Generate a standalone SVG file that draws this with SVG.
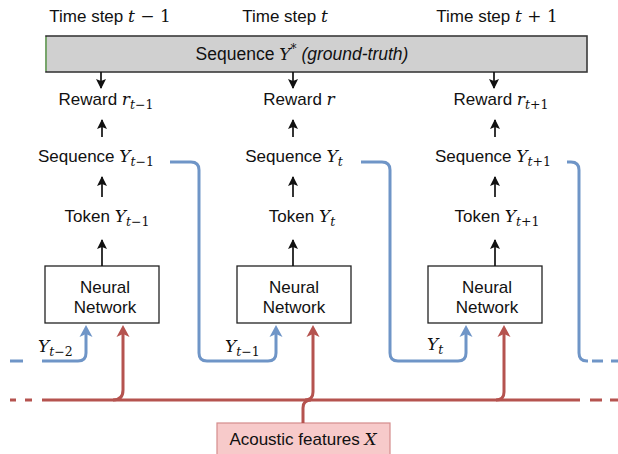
<svg xmlns="http://www.w3.org/2000/svg" width="618" height="454" viewBox="0 0 618 454">
<defs>
<style>
.t{font-family:"Liberation Sans",Arial,sans-serif;font-size:17px;fill:#111;text-anchor:middle}
.m{font-family:"DejaVu Serif","Liberation Serif",serif;font-style:italic;font-size:17px}
.mu{font-family:"DejaVu Serif","Liberation Serif",serif;font-style:normal;font-size:17px}
.s{font-family:"DejaVu Serif","Liberation Serif",serif;font-size:12.5px}
.si{font-style:italic}
.box{fill:#fff;stroke:#222;stroke-width:1.3}
.blk{stroke:#111;stroke-width:1.7;fill:none}
.blue{stroke:#6f95c7;stroke-width:3;fill:none}
.red{stroke:#b5534f;stroke-width:3;fill:none}
</style>
<marker id="ak" markerUnits="userSpaceOnUse" viewBox="0 0 10 10" refX="9" refY="5" markerWidth="10" markerHeight="10" orient="auto">
<path d="M0,0 L10,5 L0,10 L2,5 z" fill="#111"/>
</marker>
<marker id="ab" markerUnits="userSpaceOnUse" viewBox="-5 -7 14 14" refX="0" refY="0" markerWidth="14" markerHeight="14" orient="auto">
<path d="M-4,-6.5 L8,0 L-4,6.5 L-1,0 z" fill="#6f95c7"/>
</marker>
<marker id="ar" markerUnits="userSpaceOnUse" viewBox="-5 -7 14 14" refX="0" refY="0" markerWidth="14" markerHeight="14" orient="auto">
<path d="M-4,-6.5 L8,0 L-4,6.5 L-1,0 z" fill="#b5534f"/>
</marker>
</defs>

<g id="headers">
<text class="t" x="110" y="22">Time step <tspan class="m">t</tspan><tspan class="mu"> − 1</tspan></text>
<text class="t" x="285" y="22">Time step <tspan class="m">t</tspan></text>
<text class="t" x="497" y="22">Time step <tspan class="m">t</tspan><tspan class="mu"> + 1</tspan></text>
</g>

<g id="groundtruth">
<rect x="46" y="36" width="541" height="36" fill="#d0d0d0" stroke="#3a3a3a" stroke-width="1.6"/>
<line x1="46" y1="37" x2="46" y2="71" stroke="#7fb870" stroke-width="1.6"/>
<text class="t" x="302" y="60" style="font-size:17.5px">Sequence <tspan class="m">Y</tspan><tspan class="mu" dy="-7" style="font-size:12px">*</tspan><tspan dy="7"> </tspan><tspan style="font-style:italic">(ground-truth)</tspan></text>
</g>

<g id="reward_prev"><text class="t" x="106" y="105">Reward <tspan class="m">r</tspan><tspan class="s si" dy="4">t</tspan><tspan class="s">−1</tspan></text></g>
<g id="reward_cur"><text class="t" x="299" y="105">Reward <tspan class="m">r</tspan></text></g>
<g id="reward_next"><text class="t" x="501" y="105">Reward <tspan class="m">r</tspan><tspan class="s si" dy="4">t</tspan><tspan class="s">+1</tspan></text></g>

<g id="seq_prev"><text class="t" x="96" y="162">Sequence <tspan class="m">Y</tspan><tspan class="s si" dy="4">t</tspan><tspan class="s">−1</tspan></text></g>
<g id="seq_cur"><text class="t" x="294" y="162">Sequence <tspan class="m">Y</tspan><tspan class="s si" dy="4">t</tspan></text></g>
<g id="seq_next"><text class="t" x="493" y="162">Sequence <tspan class="m">Y</tspan><tspan class="s si" dy="4">t</tspan><tspan class="s">+1</tspan></text></g>

<g id="tok_prev"><text class="t" x="107" y="222">Token <tspan class="m">Y</tspan><tspan class="s si" dy="4">t</tspan><tspan class="s">−1</tspan></text></g>
<g id="tok_cur"><text class="t" x="302" y="222">Token <tspan class="m">Y</tspan><tspan class="s si" dy="4">t</tspan></text></g>
<g id="tok_next"><text class="t" x="497" y="222">Token <tspan class="m">Y</tspan><tspan class="s si" dy="4">t</tspan><tspan class="s">+1</tspan></text></g>

<g id="nn_prev">
<rect class="box" x="45" y="266" width="114" height="57"/>
<text class="t" x="105" y="293">Neural</text>
<text class="t" x="105" y="313">Network</text>
</g>
<g id="nn_cur">
<rect class="box" x="237" y="266" width="114" height="57"/>
<text class="t" x="294" y="293">Neural</text>
<text class="t" x="294" y="313">Network</text>
</g>
<g id="nn_next">
<rect class="box" x="428" y="266" width="114" height="57"/>
<text class="t" x="487" y="293">Neural</text>
<text class="t" x="487" y="313">Network</text>
</g>

<g id="acoustic">
<rect x="217" y="423" width="173" height="34" fill="#f7caca" stroke="#d48c8c" stroke-width="1.2"/>
<text class="t" x="303" y="445">Acoustic features <tspan class="m">X</tspan></text>
</g>

<g id="connectors">
<line class="blk" x1="101" y1="72" x2="101" y2="88" marker-end="url(#ak)"/>
<line class="blk" x1="293" y1="72" x2="293" y2="88" marker-end="url(#ak)"/>
<line class="blk" x1="494" y1="72" x2="494" y2="88" marker-end="url(#ak)"/>
<line class="blk" x1="102" y1="137" x2="102" y2="120" marker-end="url(#ak)"/>
<line class="blk" x1="293" y1="137" x2="293" y2="120" marker-end="url(#ak)"/>
<line class="blk" x1="495" y1="137" x2="495" y2="120" marker-end="url(#ak)"/>
<line class="blk" x1="102" y1="197" x2="102" y2="177" marker-end="url(#ak)"/>
<line class="blk" x1="293" y1="197" x2="293" y2="177" marker-end="url(#ak)"/>
<line class="blk" x1="495" y1="197" x2="495" y2="177" marker-end="url(#ak)"/>
<line class="blk" x1="102" y1="266" x2="102" y2="240" marker-end="url(#ak)"/>
<line class="blk" x1="293" y1="266" x2="293" y2="240" marker-end="url(#ak)"/>
<line class="blk" x1="495" y1="266" x2="495" y2="240" marker-end="url(#ak)"/>

<line class="blue" x1="10" y1="361" x2="23" y2="361"/>
<path class="blue" d="M42,361 H78 Q86,361 86,353 V333" marker-end="url(#ab)"/>
<path class="blue" d="M170,162 H191 Q199,162 199,170 V353 Q199,361 207,361 H268 Q276,361 276,353 V333" marker-end="url(#ab)"/>
<path class="blue" d="M361,162 H382 Q390,162 390,170 V353 Q390,361 398,361 H458 Q466,361 466,353 V333" marker-end="url(#ab)"/>
<path class="blue" d="M567,162 H571 Q579,162 579,170 V353 Q579,361 587,361 H588"/>
<line class="blue" x1="592" y1="361" x2="618" y2="361" stroke-dasharray="11,8"/>

<line class="red" x1="10" y1="400" x2="16" y2="400"/>
<line class="red" x1="25" y1="400" x2="32" y2="400"/>
<path class="red" d="M42,400 H580"/>
<line class="red" x1="590" y1="400" x2="618" y2="400" stroke-dasharray="12,8"/>
<path class="red" d="M113,400 Q123,400 123,390 V333" marker-end="url(#ar)"/>
<path class="red" d="M303,423 V408 Q303,400 311,400"/>
<path class="red" d="M305,400 Q313,400 313,392 V333" marker-end="url(#ar)"/>
<path class="red" d="M496,400 Q504,400 504,392 V333" marker-end="url(#ar)"/>
</g>

<g id="feedback_labels">
<text class="t" x="38" y="352" style="text-anchor:start"><tspan class="m">Y</tspan><tspan class="s si" dy="4">t</tspan><tspan class="s">−2</tspan></text>
<text class="t" x="225" y="352" style="text-anchor:start"><tspan class="m">Y</tspan><tspan class="s si" dy="4">t</tspan><tspan class="s">−1</tspan></text>
<text class="t" x="427" y="350" style="text-anchor:start"><tspan class="m">Y</tspan><tspan class="s si" dy="4">t</tspan></text>
</g>
</svg>
